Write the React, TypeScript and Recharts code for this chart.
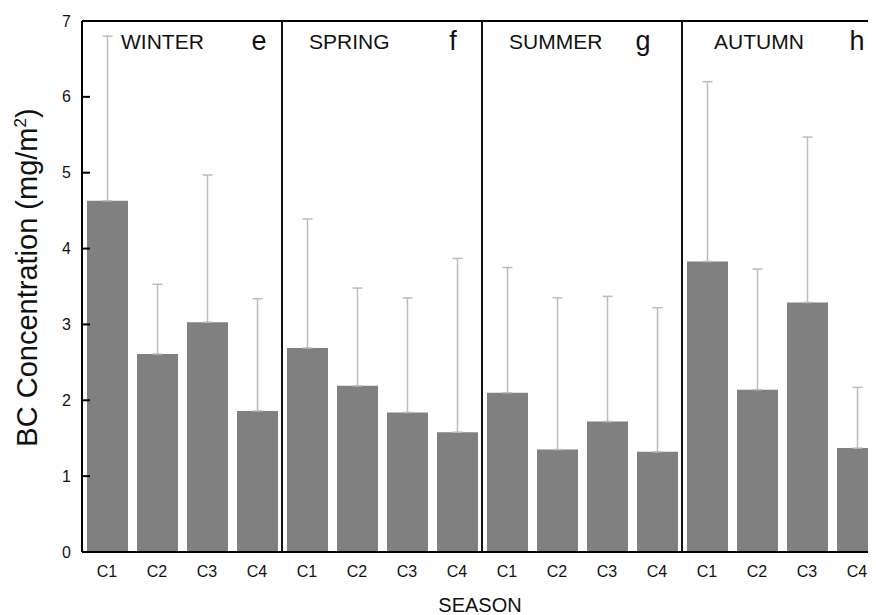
import React from "react";
import {
  ComposedChart,
  Bar,
  ErrorBar,
  XAxis,
  YAxis,
  ReferenceLine,
  ReferenceArea,
} from "recharts";

const seasons = ["WINTER", "SPRING", "SUMMER", "AUTUMN"];
const panelLetters = ["e", "f", "g", "h"];
const clusters = ["C1", "C2", "C3", "C4"];
const winterMean = [4.63, 2.61, 3.03, 1.86];
const springMean = [2.69, 2.19, 1.84, 1.58];
const summerMean = [2.1, 1.35, 1.72, 1.32];
const autumnMean = [3.83, 2.14, 3.29, 1.37];
const winterErr = [2.17, 0.92, 1.94, 1.48];
const springErr = [1.7, 1.29, 1.51, 2.29];
const summerErr = [1.65, 2.0, 1.65, 1.9];
const autumnErr = [2.37, 1.59, 2.18, 0.8];
const yTicks = [0, 1, 2, 3, 4, 5, 6, 7];

const means = [winterMean, springMean, summerMean, autumnMean];
const errs = [winterErr, springErr, summerErr, autumnErr];

const keyOf = (s: string, c: string) => `${s}-${c}`;

const data = seasons.flatMap((s, si) =>
  clusters.map((c, ci) => ({
    key: keyOf(s, c),
    cluster: c,
    value: means[si][ci],
    err: [0, errs[si][ci]],
  }))
);

// annotation placement inside each panel (px from panel left / top)
const nameOffsets = [39, 27, 27, 32];
const letterOffsets = [177, 171, 161, 175];

const FONT = "'Liberation Sans', Arial, sans-serif";

const YTick = (props: any) => {
  const { x, y, payload } = props;
  return (
    <g>
      <line x1={x} x2={x + 8} y1={y} y2={y} stroke="#000" strokeWidth={2} />
      <text
        x={x - 11}
        y={y + 5.5}
        textAnchor="end"
        fontSize={16}
        fill="#111"
        fontFamily={FONT}
      >
        {payload.value}
      </text>
    </g>
  );
};

const XTick = (props: any) => {
  const { x, y, payload } = props;
  const label = String(payload.value).split("-")[1];
  return (
    <text
      x={x}
      y={y + 25}
      textAnchor="middle"
      fontSize={16}
      fill="#111"
      fontFamily={FONT}
    >
      {label}
    </text>
  );
};

const makePanelLabel = (i: number) => (props: any) => {
  const vb = props.viewBox;
  return (
    <g fontFamily={FONT} fill="#111">
      <text x={vb.x + nameOffsets[i]} y={vb.y + 27.5} fontSize={21}>
        {seasons[i]}
      </text>
      <text
        x={vb.x + letterOffsets[i]}
        y={vb.y + 29}
        fontSize={27}
        textAnchor="middle"
      >
        {panelLetters[i]}
      </text>
    </g>
  );
};

const YLabel = (props: any) => {
  const vb = props.viewBox;
  const cx = vb.x + 15;
  const cy = vb.y + vb.height / 2 - 9;
  return (
    <text
      transform={`translate(${cx},${cy}) rotate(-90)`}
      textAnchor="middle"
      fontSize={29}
      fill="#111"
      fontFamily={FONT}
    >
      BC Concentration (mg/m
      <tspan dy={-11} fontSize={17}>
        2
      </tspan>
      <tspan dy={11}>)</tspan>
    </text>
  );
};

const XLabel = (props: any) => {
  const vb = props.viewBox;
  return (
    <text
      x={vb.x + vb.width / 2 - 2}
      y={vb.y + 60}
      textAnchor="middle"
      fontSize={20}
      fill="#111"
      fontFamily={FONT}
    >
      SEASON
    </text>
  );
};

export default function App() {
  return (
    <div style={{ width: 868, height: 607, overflow: "hidden" }}>
      <ComposedChart
        width={890}
        height={607}
        data={data}
        margin={{ top: 13, right: 16, left: 14, bottom: 33 }}
      >
        <XAxis
          xAxisId="cat"
          dataKey="key"
          type="category"
          tick={<XTick />}
          tickLine={false}
          tickSize={0}
          tickMargin={0}
          interval={0}
          axisLine={{ stroke: "#000", strokeWidth: 2 }}
          height={30}
          label={<XLabel />}
        />
        <YAxis
          domain={[0, 7]}
          ticks={yTicks}
          type="number"
          width={60}
          tick={<YTick />}
          tickLine={false}
          tickSize={0}
          tickMargin={0}
          interval={0}
          axisLine={{ stroke: "#000", strokeWidth: 2 }}
          label={<YLabel />}
        />
        {seasons.map((s, i) => (
          <ReferenceArea
            key={s}
            xAxisId="cat"
            x1={keyOf(s, clusters[0])}
            x2={keyOf(s, clusters[3])}
            y1={0}
            y2={7}
            fill="none"
            fillOpacity={0}
            stroke="none"
            ifOverflow="visible"
            label={makePanelLabel(i)}
          />
        ))}
        <Bar
          xAxisId="cat"
          dataKey="value"
          fill="#808080"
          barSize={41}
          isAnimationActive={false}
        >
          <ErrorBar
            dataKey="err"
            direction="y"
            width={5}
            stroke="#bcbcbc"
            strokeWidth={1.5}
            isAnimationActive={false}
          />
        </Bar>
        <ReferenceLine xAxisId="cat" y={7} stroke="#000" strokeWidth={2} />
        {seasons.slice(1).map((s) => (
          <ReferenceLine
            key={s}
            xAxisId="cat"
            x={keyOf(s, clusters[0])}
            position="start"
            stroke="#111"
            strokeWidth={2}
            ifOverflow="visible"
          />
        ))}
      </ComposedChart>
    </div>
  );
}
